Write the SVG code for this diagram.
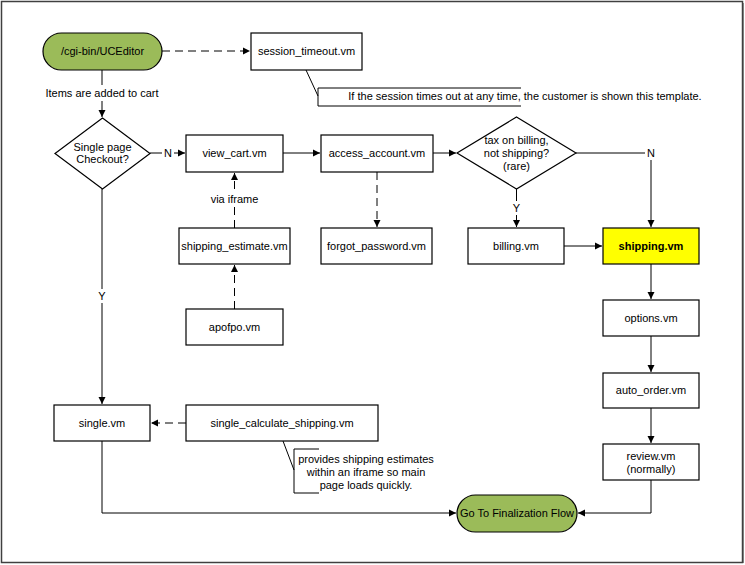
<svg xmlns="http://www.w3.org/2000/svg" width="745" height="565" viewBox="0 0 745 565">
<style>
.box{fill:#fff;stroke:#000;stroke-width:1.2}
.term{fill:#9bbb59;stroke:#000;stroke-width:1.2}
.t{font-family:"Liberation Sans",Arial,sans-serif;font-size:11px;fill:#000;text-anchor:middle;dominant-baseline:central}
.ln{fill:none;stroke:#000;stroke-width:1}
.ds{fill:none;stroke:#000;stroke-width:1;stroke-dasharray:8,5}
.bg{fill:#fff}
</style>
<defs>
<marker id="ah" markerWidth="8" markerHeight="8" refX="7" refY="4" orient="auto" markerUnits="userSpaceOnUse">
<path d="M0,0.5 L7,4 L0,7.5 z" fill="#000"/>
</marker>
</defs>
<rect x="0" y="0" width="745" height="565" fill="#fff"/>
<rect x="1.5" y="1.5" width="741" height="561" fill="none" stroke="#404040" stroke-width="1.5"/>
<line x1="743.5" y1="3" x2="743.5" y2="563" stroke="#808080" stroke-width="1"/>

<g id="connectors">
<line class="ds" x1="162" y1="51" x2="250" y2="51" marker-end="url(#ah)"/>
<line class="ln" x1="306" y1="70" x2="318" y2="96"/>
<line class="ln" x1="102" y1="70" x2="102" y2="117" marker-end="url(#ah)"/>
<line class="ln" x1="150" y1="153" x2="185" y2="153" marker-end="url(#ah)"/>
<line class="ln" x1="283" y1="153" x2="320" y2="153" marker-end="url(#ah)"/>
<line class="ln" x1="433" y1="153" x2="456" y2="153" marker-end="url(#ah)"/>
<path class="ln" d="M576,153 H651 V227" marker-end="url(#ah)"/>
<line class="ln" x1="516.5" y1="189" x2="516.5" y2="227" marker-end="url(#ah)"/>
<line class="ln" x1="564" y1="246" x2="602" y2="246" marker-end="url(#ah)"/>
<line class="ds" x1="377" y1="172" x2="377" y2="227" marker-end="url(#ah)"/>
<line class="ds" x1="234.5" y1="228" x2="234.5" y2="173" marker-end="url(#ah)"/>
<line class="ds" x1="234.5" y1="309" x2="234.5" y2="265" marker-end="url(#ah)"/>
<line class="ln" x1="102" y1="189" x2="102" y2="404" marker-end="url(#ah)"/>
<line class="ds" x1="186" y1="423" x2="151" y2="423" marker-end="url(#ah)"/>
<line class="ln" x1="283" y1="441" x2="294" y2="470"/>
<path class="ln" d="M102,441 V513 H456" marker-end="url(#ah)"/>
<path class="ln" d="M651,480 V513 H578" marker-end="url(#ah)"/>
<line class="ln" x1="651" y1="264" x2="651" y2="299" marker-end="url(#ah)"/>
<line class="ln" x1="651" y1="336" x2="651" y2="372" marker-end="url(#ah)"/>
<line class="ln" x1="651" y1="408" x2="651" y2="443" marker-end="url(#ah)"/>
<rect class="bg" x="44" y="85" width="116" height="16"/>
<text class="t" x="102" y="93">Items are added to cart</text>
<rect class="bg" x="162" y="146" width="12" height="14"/>
<text class="t" x="168" y="153">N</text>
<rect class="bg" x="645" y="146" width="12" height="14"/>
<text class="t" x="651" y="153">N</text>
<rect class="bg" x="510" y="201" width="12" height="14"/>
<text class="t" x="516.5" y="208">Y</text>
<rect class="bg" x="96" y="289" width="12" height="14"/>
<text class="t" x="102" y="296">Y</text>
<rect class="bg" x="209" y="192" width="52" height="14"/>
<text class="t" x="234.5" y="199">via iframe</text>
</g>

<g id="cgi">
<rect class="term" x="43" y="33" width="119" height="37" rx="18.5"/>
<text class="t" x="102.5" y="51">/cgi-bin/UCEditor</text>
</g>
<g id="session_timeout">
<rect class="box" x="251" y="33" width="111" height="37"/>
<text class="t" x="306.5" y="51">session_timeout.vm</text>
</g>
<g id="note_session">
<path class="ln" d="M521,88 H318 V106 H521"/>
<text class="t" x="525" y="96">If the session times out at any time, the customer is shown this template.</text>
</g>
<g id="single_page">
<polygon class="box" points="102.5,118 150,153.5 102.5,189 55,153.5"/>
<text class="t" x="102.5" y="147">Single page</text>
<text class="t" x="102.5" y="159">Checkout?</text>
</g>
<g id="view_cart">
<rect class="box" x="186" y="135" width="97" height="37"/>
<text class="t" x="234.5" y="153">view_cart.vm</text>
</g>
<g id="access_account">
<rect class="box" x="321" y="135" width="112" height="37"/>
<text class="t" x="377" y="153">access_account.vm</text>
</g>
<g id="tax_billing">
<polygon class="box" points="516.5,117 576,153 516.5,189 457,153"/>
<text class="t" x="516.5" y="140">tax on billing,</text>
<text class="t" x="516.5" y="153">not shipping?</text>
<text class="t" x="516.5" y="166">(rare)</text>
</g>
<g id="shipping_estimate">
<rect class="box" x="179" y="228" width="111" height="36"/>
<text class="t" x="234.5" y="246">shipping_estimate.vm</text>
</g>
<g id="forgot_password">
<rect class="box" x="321" y="228" width="111" height="36"/>
<text class="t" x="376.5" y="246">forgot_password.vm</text>
</g>
<g id="billing">
<rect class="box" x="468" y="228" width="96" height="36"/>
<text class="t" x="516" y="246">billing.vm</text>
</g>
<g id="shipping">
<rect x="603" y="228" width="96" height="36" fill="#ffff00" stroke="#000" stroke-width="1.2"/>
<text class="t" x="651" y="246" font-weight="bold">shipping.vm</text>
</g>
<g id="apofpo">
<rect class="box" x="186" y="309" width="97" height="36"/>
<text class="t" x="234.5" y="327">apofpo.vm</text>
</g>
<g id="options">
<rect class="box" x="603" y="300" width="96" height="36"/>
<text class="t" x="651" y="318">options.vm</text>
</g>
<g id="auto_order">
<rect class="box" x="603" y="373" width="96" height="35"/>
<text class="t" x="651" y="390">auto_order.vm</text>
</g>
<g id="review">
<rect class="box" x="603" y="444" width="96" height="36"/>
<text class="t" x="651" y="456">review.vm</text>
<text class="t" x="651" y="469">(normally)</text>
</g>
<g id="single">
<rect class="box" x="54" y="405" width="96" height="36"/>
<text class="t" x="102" y="423">single.vm</text>
</g>
<g id="single_calculate_shipping">
<rect class="box" x="186" y="405" width="192" height="36"/>
<text class="t" x="282" y="423">single_calculate_shipping.vm</text>
</g>
<g id="note_single">
<path class="ln" d="M319,449 H294 V493 H319"/>
<text class="t" x="366" y="459">provides shipping estimates</text>
<text class="t" x="366" y="472">within an iframe so main</text>
<text class="t" x="366" y="485">page loads quickly.</text>
</g>
<g id="finalization">
<rect class="term" x="457" y="495" width="120" height="37" rx="18.5"/>
<text class="t" x="517" y="513">Go To Finalization Flow</text>
</g>
</svg>
